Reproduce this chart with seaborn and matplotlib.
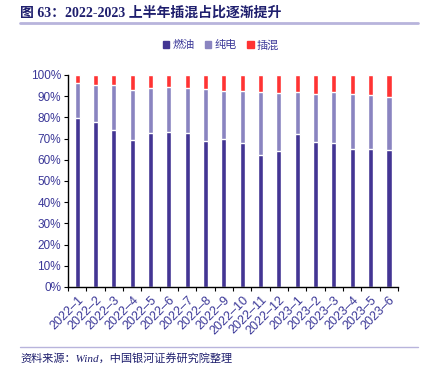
import numpy as np
import pandas as pd
import seaborn as sns
import matplotlib.pyplot as plt
from matplotlib.patches import Patch

months = ['2022–1', '2022–2', '2022–3', '2022–4', '2022–5', '2022–6', '2022–7',
          '2022–8', '2022–9', '2022–10', '2022–11', '2022–12', '2023–1', '2023–2',
          '2023–3', '2023–4', '2023–5', '2023–6']
fuel = [79.9, 77.6, 73.8, 69.1, 72.4, 72.9, 72.7, 68.7, 69.6, 68.0, 62.1, 63.9,
        72.1, 68.2, 67.7, 64.9, 64.9, 64.4]
bev = [16.2, 17.4, 21.5, 23.8, 21.3, 21.6, 20.9, 24.6, 23.0, 24.3, 29.6, 27.6,
       19.7, 22.7, 24.1, 25.9, 25.5, 25.3]
phev = [3.9, 5.0, 4.7, 7.1, 6.3, 5.5, 6.4, 6.7, 7.4, 7.7, 8.3, 8.5,
        8.2, 9.1, 8.2, 9.2, 9.6, 10.3]
series = ['燃油', '纯电', '插混']

c_fuel = '#433593'
c_bev = '#8a84c0'
c_phev = '#ff3333'
txt = '#3b3898'

sns.set_style('white')
plt.rcParams['font.family'] = ['Liberation Sans', 'Noto Sans CJK SC']

df = pd.DataFrame({'month': months, 'fuel': fuel, 'bev': bev, 'phev': phev})
df['top2'] = df['fuel'] + df['bev']
df['top3'] = df['top2'] + df['phev']

fig = plt.figure(figsize=(4.29, 3.67), dpi=100)
ax = fig.add_axes([0.1585, 0.218, 0.7695, 0.578])

# stacked bars drawn back to front
sns.barplot(data=df, x='month', y='top3', color=c_phev, width=0.28, saturation=1, ax=ax)
sns.barplot(data=df, x='month', y='top2', color=c_bev, width=0.28, saturation=1, ax=ax)
sns.barplot(data=df, x='month', y='fuel', color=c_fuel, width=0.28, saturation=1, ax=ax)

ax.set_xlim(-0.5, len(months) - 0.5)
ax.set_ylim(0, 100)
ax.set_yticks(np.arange(0, 101, 10))
ax.set_yticklabels([f'{v}%' for v in range(0, 101, 10)])
ax.set_xlabel('')
ax.set_ylabel('')
ax.set_xticks(range(len(months)))
ax.set_xticklabels(months, rotation=45, ha='right', rotation_mode='anchor')
ax.set_xticks(np.arange(-0.5, len(months)), minor=True)
ax.tick_params(axis='x', which='major', length=0, pad=5, labelsize=9, labelcolor=txt)
ax.tick_params(axis='x', which='minor', length=3, width=0.8, color='black', direction='out', bottom=True)
ax.tick_params(axis='y', length=3, width=0.8, color='black', direction='out', left=True,
               labelsize=8.5, labelcolor=txt, pad=2)
sns.despine(ax=ax)
for s in ['left', 'bottom']:
    ax.spines[s].set_color('black')
    ax.spines[s].set_linewidth(1)

handles = [Patch(color=c) for c in [c_fuel, c_bev, c_phev]]
fig.legend(handles, series, loc='center', bbox_to_anchor=(0.515, 0.877), ncol=3,
           frameon=False, fontsize=8, handlelength=0.6, handleheight=0.6,
           handletextpad=0.3, columnspacing=0.9, labelcolor=txt)

fig.text(0.047, 0.965, '图 63：2022-2023 上半年插混占比逐渐提升', fontsize=10, fontweight='bold',
         color='#1f1f6e', va='center', ha='left', family=['Liberation Serif', 'Noto Sans CJK SC'])
fig.add_artist(plt.Line2D([0.047, 0.975], [0.937, 0.937], color='#b8b4dc', lw=2))
fig.add_artist(plt.Line2D([0.047, 0.975], [0.054, 0.054], color='#b8b4dc', lw=1))
fig.text(0.047, 0.025, '资料来源：Wind，中国银河证券研究院整理', fontsize=8, style='italic',
         color='#1f1f6e', va='center', ha='left', family=['Liberation Serif', 'Noto Sans CJK SC'])

fig.savefig('out.png', dpi=100)
